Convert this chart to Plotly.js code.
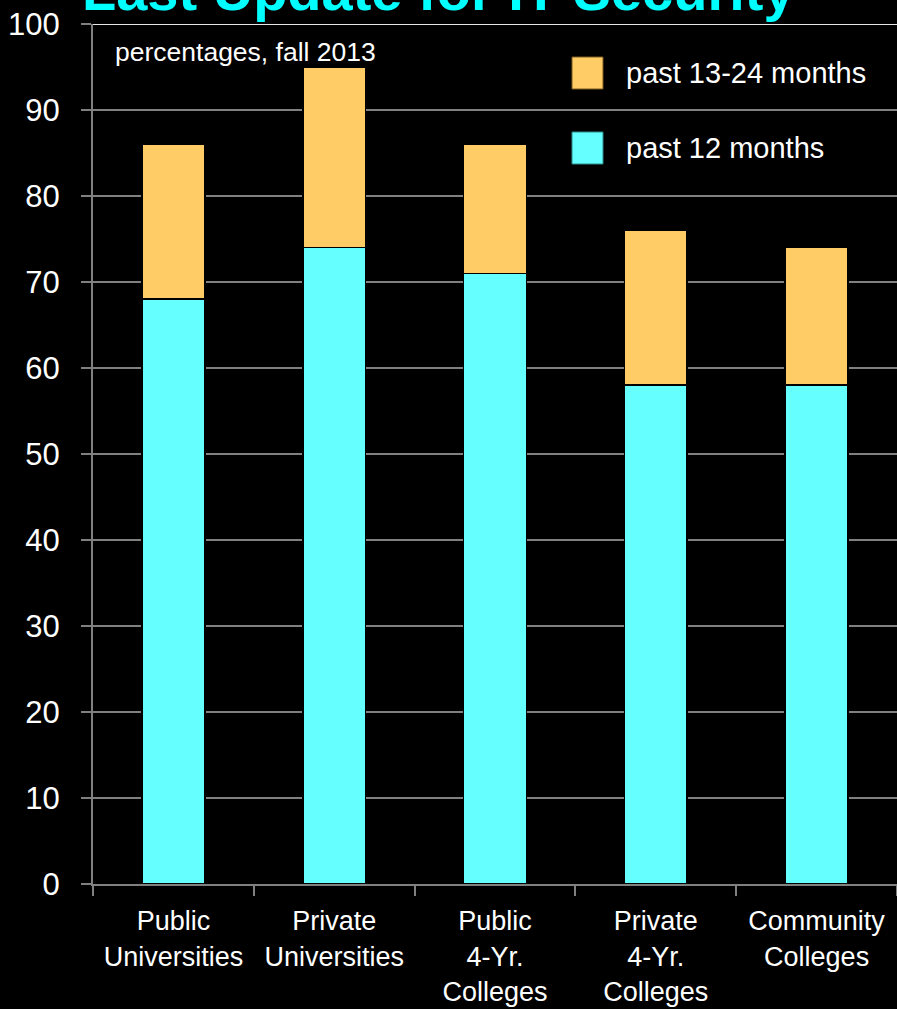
<!DOCTYPE html>
<html>
<head>
<meta charset="utf-8">
<script src="https://cdn.plot.ly/plotly-3.0.1.min.js"></script>
<style>
  html, body { margin: 0; padding: 0; background: #000; }
  #chart { width: 897px; height: 1009px; }
</style>
</head>
<body>
<div id="chart"></div>
<script>
// ---- data ----
const categories = [
  "Public<br>Universities",
  "Private<br>Universities",
  "Public<br>4-Yr.<br>Colleges",
  "Private<br>4-Yr.<br>Colleges",
  "Community<br>Colleges"
];
const seriesNames = ["past 12 months", "past 13-24 months"];
const past12 = [68, 74, 71, 58, 58];
const past13to24 = [18, 21, 15, 18, 16];
const yTickVals = [0, 10, 20, 30, 40, 50, 60, 70, 80, 90, 100];
const chartTitle = "Last Update for IT Security";
const subtitle = "percentages, fall 2013";

// ---- styles ----
const cyan = "#66FFFF";
const orange = "#FFCC66";
const grid = "#808080";

const traces = [
  {
    type: "bar", name: seriesNames[0], x: categories, y: past12,
    marker: { color: cyan, line: { color: "#000", width: 1.5 } },
    showlegend: false, hoverinfo: "y"
  },
  {
    type: "bar", name: seriesNames[1], x: categories, y: past13to24,
    marker: { color: orange, line: { color: "#000", width: 1.5 } },
    showlegend: false, hoverinfo: "y"
  }
];

function px2x(p) { return (p - 93) / 804; }
function px2y(p) { return (884 - p) / 860; }

const layout = {
  width: 897, height: 1009,
  paper_bgcolor: "#000", plot_bgcolor: "#000",
  margin: { l: 93, r: 0, t: 24, b: 125 },
  barmode: "stack",
  bargap: 0.61,
  showlegend: false,
  font: { family: "Liberation Sans, Arial, sans-serif", color: "#fff" },
  xaxis: {
    showline: true, linecolor: grid, linewidth: 2,
    ticks: "outside", tickson: "boundaries", ticklen: 10, tickwidth: 2, tickcolor: grid,
    ticklabelstandoff: 12,
    tickfont: { family: "Liberation Sans, Arial, sans-serif", size: 27, color: "#fff" },
    showgrid: false, zeroline: false
  },
  yaxis: {
    range: [0, 100], tickvals: yTickVals, ticktext: yTickVals.map(String),
    showline: true, linecolor: grid, linewidth: 2,
    ticks: "outside", ticklen: 10, tickwidth: 2, tickcolor: grid,
    ticklabelstandoff: 15,
    tickfont: { family: "Liberation Sans, Arial, sans-serif", size: 31, color: "#fff" },
    showgrid: true, gridcolor: grid, gridwidth: 2, zeroline: false
  },
  shapes: [
    { type: "line", xref: "paper", yref: "y", x0: 0, x1: 1, y0: 100, y1: 100,
      line: { color: "#e6e6e6", width: 2 } },
    { type: "rect", xref: "paper", yref: "paper",
      x0: px2x(572), x1: px2x(603), y0: px2y(89), y1: px2y(57),
      fillcolor: orange, line: { color: "#7a5a20", width: 1 } },
    { type: "rect", xref: "paper", yref: "paper",
      x0: px2x(572), x1: px2x(603), y0: px2y(164), y1: px2y(132),
      fillcolor: cyan, line: { color: "#2a8a8a", width: 1 } }
  ],
  annotations: [
    { text: "<b>" + chartTitle + "</b>", xref: "paper", yref: "paper",
      x: px2x(80), y: 1, xanchor: "left", yanchor: "bottom", showarrow: false,
      font: { family: "Liberation Sans, Arial, sans-serif", size: 56, color: "#00FFFF" } },
    { text: subtitle, xref: "paper", yref: "paper",
      x: px2x(113), y: px2y(52), xanchor: "left", yanchor: "middle", showarrow: false,
      font: { family: "Liberation Sans, Arial, sans-serif", size: 26.5, color: "#fff" } },
    { text: seriesNames[1], xref: "paper", yref: "paper",
      x: px2x(624), y: px2y(73), xanchor: "left", yanchor: "middle", showarrow: false,
      font: { family: "Liberation Sans, Arial, sans-serif", size: 29, color: "#fff" } },
    { text: seriesNames[0], xref: "paper", yref: "paper",
      x: px2x(624), y: px2y(148), xanchor: "left", yanchor: "middle", showarrow: false,
      font: { family: "Liberation Sans, Arial, sans-serif", size: 29, color: "#fff" } }
  ]
};

Plotly.newPlot("chart", traces, layout, { staticPlot: true });
</script>
</body>
</html>
